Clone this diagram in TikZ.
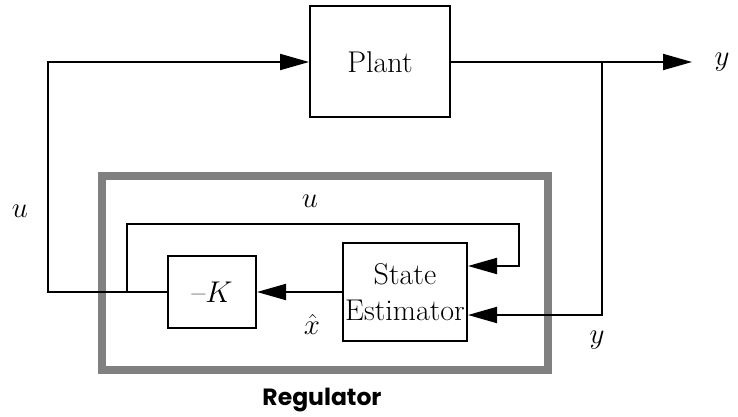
\documentclass[tikz,border=0pt]{standalone}
\usepackage{fix-cm}
\usepackage{fontspec}
\newfontfamily\regfont{Poppins}
\usepackage{tikz}
\usetikzlibrary{arrows.meta,positioning,calc}
\definecolor{regray}{RGB}{128,128,128}

\begin{document}
\begin{tikzpicture}[x=1pt,y=-1pt,>={Triangle[length=29pt,width=16pt]},
    blk/.style={draw,line width=2pt,inner sep=0pt,align=center,font=\fontsize{30}{36}\selectfont},
    lbl/.style={font=\fontsize{29}{32}\selectfont},
    wire/.style={line width=2pt}]
  \useasboundingbox (0,0) rectangle (738,417);
  % regulator frame
  \node[draw=regray,line width=8pt,minimum width=446pt,minimum height=194pt] (reg) at (325,273) {};
  \node[font=\regfont\bfseries\fontsize{23.5}{26}\selectfont] (reglab) at (322,400) {Regulator};
  % blocks
  \node[blk,minimum width=140pt,minimum height=111pt] (plant) at (380,62) {Plant};
  \node[blk,minimum width=124pt,minimum height=98pt] (est) at (405,292) {State\\Estimator};
  \node[blk,minimum width=88pt,minimum height=72pt] (gain) at (212,292) {\textendash$K$};
  % corners of the wires
  \coordinate (yout) at (692,62);
  \coordinate (ytap) at (602,62);
  \coordinate (uleft) at (48,292);
  \coordinate (utap) at (127,292);
  \coordinate (utop) at (519,224);
  % wires
  \draw[wire,->] (plant.east) -- (yout);
  \draw[wire,->] (ytap) |- ([yshift=-23pt]est.east);
  \draw[wire,->] (est.west) -- (gain.east);
  \draw[wire,->] (gain.west) -- (uleft) |- (plant.west);
  \draw[wire,->] (utap) |- (utop) |- ([yshift=26pt]est.east);
  % signal labels
  \node[lbl] (ylab) at (722,62) {$y$};
  \node[lbl] (yfb) at (597,340) {$y$};
  \node[lbl] (uin) at (20,211) {$u$};
  \node[lbl] (ufb) at (310,201) {$u$};
  \node[lbl] (xhat) at (312,324) {$\hat{x}$};
\end{tikzpicture}
\end{document}
